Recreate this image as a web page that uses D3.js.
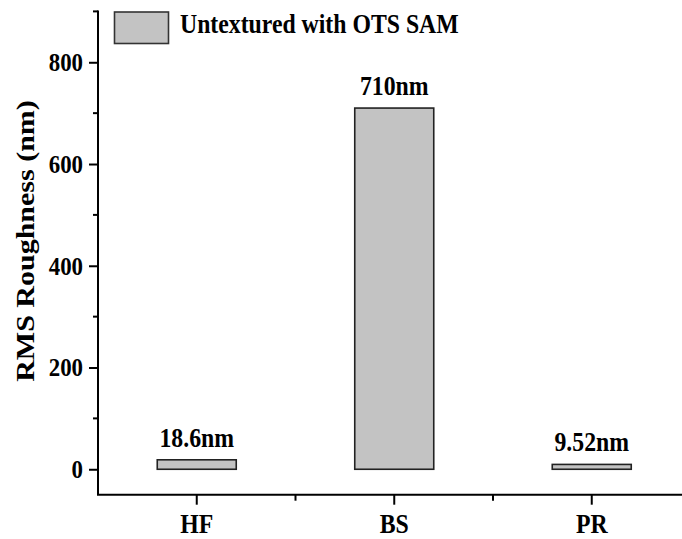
<!DOCTYPE html>
<html>
<head>
<meta charset="utf-8">
<script src="https://cdn.jsdelivr.net/npm/d3@7"></script>
<style>
  html, body { margin: 0; padding: 0; background: #fff; }
  svg { display: block; }
  text { font-family: "Liberation Serif", "Times New Roman", serif; font-weight: bold; fill: #000; }
</style>
</head>
<body>
<svg id="chart" width="682" height="539"></svg>
<script>
// Data
const categories = ["HF", "BS", "PR"];
const roughness = [18.6, 710, 9.52];
const valueLabels = ["18.6nm", "710nm", "9.52nm"];
const majorYTicks = [0, 200, 400, 600, 800];
const minorYTicks = [100, 300, 500, 700, 900];
const seriesName = "Untextured with OTS SAM";
const yTitle = "RMS Roughness (nm)";

const SX = 0.88; // horizontal squeeze of the serif lettering
const svg = d3.select("#chart");

const plotLeft = 98, plotBottom = 494.7, plotTop = 11.4;
const step = 197.5;

const y = d3.scaleLinear().domain([-50, 900]).range([plotBottom, plotTop]);
const x = d3.scaleBand().domain(categories)
  .range([plotLeft, plotLeft + step * categories.length])
  .paddingInner(0.6).paddingOuter(0.3);

// Bars
svg.append("g").selectAll("rect")
  .data(categories)
  .join("rect")
  .attr("x", d => x(d))
  .attr("width", x.bandwidth())
  .attr("y", (d, i) => y(roughness[i]))
  .attr("height", (d, i) => y(0) - y(roughness[i]))
  .attr("fill", "#c3c3c3")
  .attr("stroke", "#222")
  .attr("stroke-width", 1.6);

// Value labels above bars
svg.append("g").selectAll("text")
  .data(categories)
  .join("text")
  .attr("transform", (d, i) => `translate(${x(d) + x.bandwidth() / 2},${y(roughness[i]) - 13}) scale(${SX},1)`)
  .attr("text-anchor", "middle")
  .attr("font-size", 27)
  .text((d, i) => valueLabels[i]);

// Y axis
const yAxis = svg.append("g")
  .attr("transform", `translate(${plotLeft},0)`)
  .call(d3.axisLeft(y).tickValues(majorYTicks).tickSize(9).tickSizeOuter(0).tickPadding(6).tickFormat(d3.format("d")));
yAxis.attr("font-family", null).attr("font-size", null);
yAxis.select(".domain").remove();
yAxis.selectAll(".tick line").attr("stroke", "#000").attr("stroke-width", 2);
yAxis.selectAll(".tick text")
  .attr("font-size", 26)
  .attr("x", -15 / SX)
  .attr("transform", `scale(${SX},1)`);

svg.append("g").selectAll("line")
  .data(minorYTicks)
  .join("line")
  .attr("x1", plotLeft - 5).attr("x2", plotLeft)
  .attr("y1", d => y(d)).attr("y2", d => y(d))
  .attr("stroke", "#000").attr("stroke-width", 2);

svg.append("line")
  .attr("x1", plotLeft).attr("x2", plotLeft)
  .attr("y1", y(900) - 1).attr("y2", plotBottom)
  .attr("stroke", "#000").attr("stroke-width", 2);

// X axis
const xAxis = svg.append("g")
  .attr("transform", `translate(0,${plotBottom})`)
  .call(d3.axisBottom(x).tickSize(10).tickSizeOuter(0).tickPadding(9));
xAxis.attr("font-family", null).attr("font-size", null);
xAxis.select(".domain").remove();
xAxis.selectAll(".tick line").attr("stroke", "#000").attr("stroke-width", 2);
xAxis.selectAll(".tick text")
  .attr("font-size", 27)
  .attr("transform", `scale(${SX},1)`);

// Minor x ticks halfway between categories
const mids = categories.slice(1).map((c, i) => (x(categories[i]) + x(c)) / 2 + x.bandwidth() / 2);
svg.append("g").selectAll("line")
  .data(mids)
  .join("line")
  .attr("x1", d => d).attr("x2", d => d)
  .attr("y1", plotBottom).attr("y2", plotBottom + 6)
  .attr("stroke", "#000").attr("stroke-width", 2);

svg.append("line")
  .attr("x1", plotLeft - 1).attr("x2", 682)
  .attr("y1", plotBottom).attr("y2", plotBottom)
  .attr("stroke", "#000").attr("stroke-width", 2);

// Y axis title
svg.append("text")
  .attr("transform", `translate(34,241) scale(${SX - 0.03},1) rotate(-90)`)
  .attr("text-anchor", "middle")
  .attr("font-size", 30)
  .text(yTitle);

// Legend
svg.append("rect")
  .attr("x", 114.5).attr("y", 12)
  .attr("width", 54).attr("height", 31.5)
  .attr("fill", "#c3c3c3")
  .attr("stroke", "#333")
  .attr("stroke-width", 1.6);
svg.append("text")
  .attr("transform", `translate(180,33.3) scale(${SX},1)`)
  .attr("font-size", 27)
  .text(seriesName);
</script>
</body>
</html>
